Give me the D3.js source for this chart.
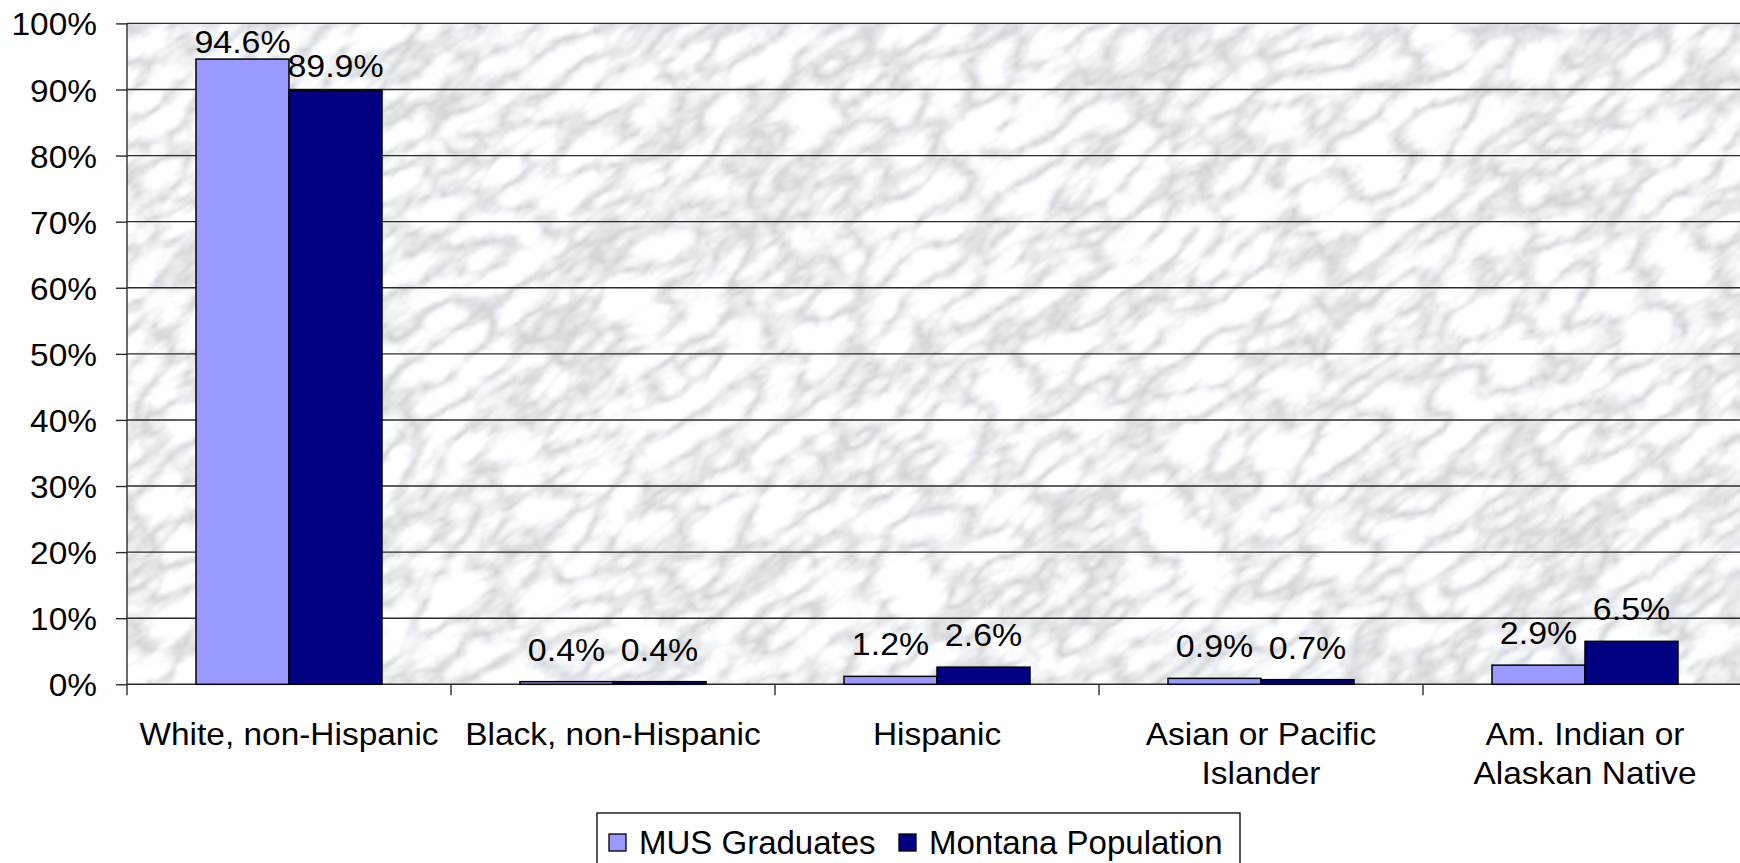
<!DOCTYPE html>
<html>
<head>
<meta charset="utf-8">
<script src="https://cdn.jsdelivr.net/npm/d3@7"></script>
<style>
  html, body { margin: 0; padding: 0; background: #fff; }
  svg { display: block; font-family: "Liberation Sans", Arial, sans-serif; }
</style>
</head>
<body>
<svg id="chart" width="1740" height="863"></svg>
<script>
// data
const categories = [
  ["White, non-Hispanic"],
  ["Black, non-Hispanic"],
  ["Hispanic"],
  ["Asian or Pacific", "Islander"],
  ["Am. Indian or", "Alaskan Native"]
];
const seriesNames = ["MUS Graduates", "Montana Population"];
const musGraduates = [94.6, 0.4, 1.2, 0.9, 2.9];
const montanaPopulation = [89.9, 0.4, 2.6, 0.7, 6.5];
const yTicks = [0, 10, 20, 30, 40, 50, 60, 70, 80, 90, 100];

const colors = ["#9999FF", "#000080"];
const svg = d3.select("#chart");

// plot area
const plotL = 127, plotR = 1747, plotT = 23.4, plotB = 684.3;
const sx = 1.045; // the original text is a little wide

const x = d3.scaleBand()
  .domain(d3.range(categories.length))
  .range([plotL, plotR])
  .paddingInner(0)
  .paddingOuter(0);

// two bars of ~93px inside a 324px category
const groupW = x.bandwidth() * 186 / 324;
const x1 = d3.scaleBand()
  .domain([0, 1])
  .range([0, groupW]);

const y = d3.scaleLinear().domain([0, 100]).range([plotB, plotT]);

// marble background
const defs = svg.append("defs");
const filt = defs.append("filter").attr("id", "marble")
  .attr("x", 0).attr("y", 0).attr("width", 1).attr("height", 1);
filt.append("feTurbulence")
  .attr("type", "turbulence")
  .attr("baseFrequency", "0.016 0.034")
  .attr("numOctaves", 5)
  .attr("seed", 11)
  .attr("result", "t");
filt.append("feColorMatrix")
  .attr("in", "t")
  .attr("type", "matrix")
  .attr("values",
    "0.9 0 0 0 0.585  0.9 0 0 0 0.6  0.9 0 0 0 0.625  0 0 0 0 1")
  .attr("result", "c");
filt.append("feGaussianBlur").attr("in", "c").attr("stdDeviation", 0.8);
defs.append("clipPath").attr("id", "plotClip")
  .append("rect")
  .attr("x", plotL).attr("y", plotT)
  .attr("width", plotR - plotL).attr("height", plotB - plotT);

svg.append("g").attr("clip-path", "url(#plotClip)")
  .append("g")
  .attr("transform", `rotate(-35 ${(plotL + plotR) / 2} ${(plotT + plotB) / 2})`)
  .append("rect")
  .attr("x", plotL - 600).attr("y", plotT - 700)
  .attr("width", plotR - plotL + 1200).attr("height", plotB - plotT + 1400)
  .attr("fill", "#e4e6ea")
  .attr("filter", "url(#marble)");

// gridlines
svg.append("g")
  .selectAll("line")
  .data(yTicks.filter(d => d > 0))
  .join("line")
  .attr("x1", plotL).attr("x2", plotR)
  .attr("y1", d => y(d)).attr("y2", d => y(d))
  .attr("stroke", "#2b2b2b")
  .attr("stroke-width", 1.4);

// y axis
const yAxis = d3.axisLeft(y)
  .tickValues(yTicks)
  .tickSize(11)
  .tickFormat(d => d + "%");
const yg = svg.append("g")
  .attr("transform", `translate(${plotL},0)`)
  .call(yAxis);
yg.select(".domain").attr("stroke", "#2b2b2b").attr("stroke-width", 1.4)
  .attr("d", `M0,${plotT}V${plotB}`);
yg.selectAll(".tick line").attr("stroke", "#2b2b2b").attr("stroke-width", 1.4);
yg.selectAll(".tick text")
  .attr("x", -30 / sx)
  .attr("dy", "0.36em")
  .attr("transform", `scale(${sx},1)`)
  .attr("font-size", 32)
  .attr("font-family", "Liberation Sans, Arial, sans-serif")
  .attr("fill", "#000");

// x axis
const xg = svg.append("g").attr("transform", `translate(0,${plotB})`);
xg.append("line")
  .attr("x1", plotL).attr("x2", plotR)
  .attr("stroke", "#2b2b2b").attr("stroke-width", 1.4);
xg.selectAll(".xt")
  .data(d3.range(categories.length + 1))
  .join("line")
  .attr("class", "xt")
  .attr("x1", i => plotL + i * x.step()).attr("x2", i => plotL + i * x.step())
  .attr("y1", 0).attr("y2", 11)
  .attr("stroke", "#2b2b2b").attr("stroke-width", 1.4);

const xl = xg.selectAll(".xl")
  .data(categories)
  .join("text")
  .attr("class", "xl")
  .attr("text-anchor", "middle")
  .attr("font-size", 32)
  .attr("fill", "#000")
  .attr("transform", (d, i) => `translate(${x(i) + x.bandwidth() / 2},61) scale(${sx},1)`);
xl.selectAll("tspan")
  .data(d => d)
  .join("tspan")
  .attr("x", 0)
  .attr("dy", (d, j) => j === 0 ? 0 : 39)
  .text(d => d);

// bars
const series = [musGraduates, montanaPopulation];
const groups = svg.append("g")
  .selectAll("g")
  .data(categories)
  .join("g")
  .attr("transform", (d, i) => `translate(${x(i) + (x.bandwidth() - groupW) / 2},0)`);

groups.selectAll("rect")
  .data((d, i) => series.map((s, k) => ({ k, v: s[i] })))
  .join("rect")
  .attr("x", d => x1(d.k))
  .attr("width", x1.bandwidth())
  .attr("y", d => y(d.v))
  .attr("height", d => plotB - y(d.v))
  .attr("fill", d => colors[d.k])
  .attr("stroke", "#000")
  .attr("stroke-width", 1.5);

// label gap above the bar; the two tall bars have theirs pulled in
const labelGap = d => d.v > 50 ? (d.k === 0 ? 6 : 13) : 21;
groups.selectAll("text")
  .data((d, i) => series.map((s, k) => ({ k, v: s[i] })))
  .join("text")
  .attr("transform", d =>
    `translate(${x1(d.k) + x1.bandwidth() / 2},${y(d.v) - labelGap(d)}) scale(1.06,1)`)
  .attr("text-anchor", "middle")
  .attr("font-size", 32)
  .attr("fill", "#000")
  .text(d => d.v.toFixed(1) + "%");

// legend
const lg = svg.append("g").attr("transform", "translate(597,813)");
lg.append("rect")
  .attr("width", 643).attr("height", 70)
  .attr("fill", "#fff").attr("stroke", "#000").attr("stroke-width", 1.3);
const itemX = [12, 302];
seriesNames.forEach((name, k) => {
  lg.append("rect")
    .attr("x", itemX[k]).attr("y", 21)
    .attr("width", 17).attr("height", 17)
    .attr("fill", colors[k]).attr("stroke", "#000").attr("stroke-width", 1.3);
  lg.append("text")
    .attr("x", itemX[k] + 30).attr("y", 41)
    .attr("font-size", 33)
    .attr("fill", "#000")
    .text(name);
});
</script>
</body>
</html>
